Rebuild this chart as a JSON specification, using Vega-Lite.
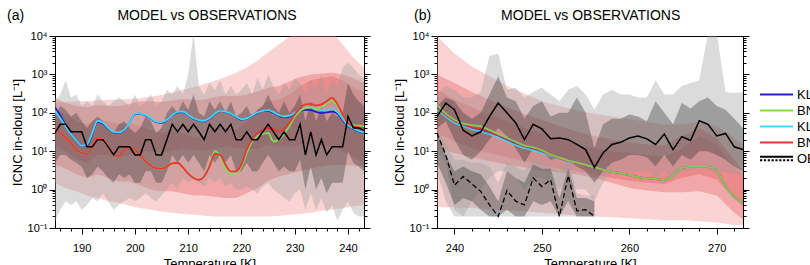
{
  "$schema": "https://vega.github.io/schema/vega-lite/v6.json",
  "background": "white",
  "padding": {"left": 6, "top": 8, "right": 0, "bottom": 0},
  "bounds": "flush",
  "spacing": 73,
  "config": {
    "font": "Liberation Sans",
    "view": {"stroke": "black", "strokeWidth": 1},
    "axis": {"domain": false, "grid": false, "tickColor": "black", "labelColor": "black", "titleColor": "black", "labelFont": "Liberation Sans", "titleFont": "Liberation Sans", "labelFontSize": 11, "titleFontSize": 13, "titleFontWeight": "normal", "labelOverlap": false}
  },
  "datasets": {
    "pa": [
      {"T":185,"kb":140,"kc":110,"bg":40,"br":40,"ob":30,"gl":0.15,"gh":200,"dl":5,"dh":80,"pl":1.5,"ph":180,"r1l":15,"r1h":250,"r2l":4.5,"r2h":120},
      {"T":186,"kb":85,"kc":72,"bg":30,"br":30,"ob":50,"gl":0.3,"gh":300,"dl":8,"dh":150},
      {"T":187,"kb":48,"kc":44,"bg":22,"br":22,"ob":50,"gl":0.5,"gh":700,"dl":8,"dh":120,"pl":1.1,"ph":190,"r1l":10,"r1h":180,"r2l":3.5,"r2h":90},
      {"T":188,"kb":29,"kc":28,"bg":16,"br":16,"ob":32,"gl":0.4,"gh":250,"dl":6,"dh":80},
      {"T":189,"kb":19,"kc":19,"bg":11,"br":11,"ob":32,"gl":0.5,"gh":300,"dl":5,"dh":100,"pl":0.9,"ph":200,"r1l":6,"r1h":150,"r2l":2.5,"r2h":60},
      {"T":190,"kb":14,"kc":14,"bg":9,"br":9,"ob":32,"gl":0.3,"gh":150,"dl":4,"dh":60},
      {"T":191,"kb":14,"kc":15,"bg":8.5,"br":8.5,"ob":13,"gl":0.4,"gh":200,"dl":2,"dh":40,"pl":0.7,"ph":200,"r1l":5,"r1h":140,"r2l":2,"r2h":50},
      {"T":192,"kb":28,"kc":30,"bg":14,"br":14,"ob":13,"gl":0.6,"gh":150,"dl":2.5,"dh":60},
      {"T":193,"kb":58,"kc":62,"bg":22,"br":22,"ob":20,"gl":0.5,"gh":300,"dl":4,"dh":80,"pl":0.6,"ph":210,"r1l":8,"r1h":160,"r2l":2.5,"r2h":70},
      {"T":194,"kb":52,"kc":55,"bg":19,"br":19,"ob":20,"gl":0.8,"gh":200,"dl":3,"dh":60},
      {"T":195,"kb":38,"kc":40,"bg":13,"br":13,"ob":13,"gl":0.5,"gh":150,"dl":2,"dh":40,"pl":0.5,"ph":220,"r1l":8,"r1h":150,"r2l":2,"r2h":60},
      {"T":196,"kb":31,"kc":32,"bg":8,"br":8,"ob":8,"gl":0.3,"gh":200,"dl":1.5,"dh":30},
      {"T":197,"kb":30,"kc":31,"bg":7.5,"br":7.5,"ob":13,"gl":0.4,"gh":250,"dl":2.5,"dh":50,"pl":0.45,"ph":220,"r1l":7,"r1h":150,"r2l":1.6,"r2h":50},
      {"T":198,"kb":35,"kc":36,"bg":11,"br":11,"ob":13,"gl":0.5,"gh":200,"dl":2,"dh":60},
      {"T":199,"kb":55,"kc":55,"bg":13,"br":13,"ob":13,"gl":0.6,"gh":150,"dl":2.5,"dh":40,"pl":0.38,"ph":230,"r1l":8,"r1h":170,"r2l":1.6,"r2h":55},
      {"T":200,"kb":92,"kc":95,"bg":11,"br":11,"ob":8,"gl":0.5,"gh":300,"dl":1.5,"dh":30},
      {"T":201,"kb":95,"kc":97,"bg":8,"br":8,"ob":8,"gl":0.6,"gh":150,"dl":1.5,"dh":40,"pl":0.33,"ph":240,"r1l":10,"r1h":200,"r2l":1.3,"r2h":45},
      {"T":202,"kb":85,"kc":88,"bg":5.5,"br":5.5,"ob":20,"gl":0.8,"gh":200,"dl":3,"dh":80},
      {"T":203,"kb":70,"kc":72,"bg":4.2,"br":4.2,"ob":20,"gl":0.6,"gh":300,"dl":3,"dh":60,"pl":0.3,"ph":260,"r1l":10,"r1h":200,"r2l":1,"r2h":35},
      {"T":204,"kb":57,"kc":59,"bg":3.6,"br":3.6,"ob":8,"gl":0.5,"gh":150,"dl":1.5,"dh":30},
      {"T":205,"kb":55,"kc":57,"bg":3.5,"br":3.5,"ob":8,"gl":0.7,"gh":200,"dl":1.5,"dh":40,"pl":0.27,"ph":290,"r1l":9,"r1h":190,"r2l":0.9,"r2h":30},
      {"T":206,"kb":65,"kc":66,"bg":4,"br":4,"ob":20,"gl":1,"gh":400,"dl":3,"dh":100},
      {"T":207,"kb":85,"kc":86,"bg":4.8,"br":4.8,"ob":50,"gl":1.5,"gh":300,"dl":8,"dh":150,"pl":0.25,"ph":340,"r1l":10,"r1h":210,"r2l":0.9,"r2h":35},
      {"T":208,"kb":103,"kc":106,"bg":5,"br":5,"ob":32,"gl":1,"gh":500,"dl":5,"dh":100},
      {"T":209,"kb":105,"kc":108,"bg":3.8,"br":3.8,"ob":50,"gl":2,"gh":300,"dl":8,"dh":200,"pl":0.23,"ph":400,"r1l":12,"r1h":230,"r2l":0.8,"r2h":30},
      {"T":210,"kb":86,"kc":88,"bg":2.6,"br":2.6,"ob":32,"gl":1.5,"gh":1000,"dl":5,"dh":120},
      {"T":211,"kb":70,"kc":72,"bg":2,"br":2,"ob":50,"gl":2,"gh":12000,"dl":8,"dh":300,"pl":0.22,"ph":460,"r1l":11,"r1h":220,"r2l":0.7,"r2h":22},
      {"T":212,"kb":62,"kc":64,"bg":1.8,"br":1.8,"ob":32,"gl":1.5,"gh":500,"dl":5,"dh":100},
      {"T":213,"kb":60,"kc":62,"bg":2.2,"br":2.2,"ob":20,"gl":1.2,"gh":300,"dl":3,"dh":80,"pl":0.21,"ph":560,"r1l":10,"r1h":220,"r2l":0.7,"r2h":25},
      {"T":214,"kb":70,"kc":72,"bg":4.2,"br":4,"ob":50,"gl":2,"gh":600,"dl":8,"dh":200},
      {"T":215,"kb":93,"kc":95,"bg":10,"br":8.5,"ob":32,"gl":1.5,"gh":400,"dl":5,"dh":120,"pl":0.2,"ph":680,"r1l":12,"r1h":260,"r2l":0.65,"r2h":45},
      {"T":216,"kb":110,"kc":112,"bg":7.5,"br":8,"ob":50,"gl":2,"gh":700,"dl":8,"dh":200},
      {"T":217,"kb":105,"kc":108,"bg":3.6,"br":4.5,"ob":32,"gl":1.2,"gh":300,"dl":5,"dh":100,"pl":0.2,"ph":850,"r1l":13,"r1h":280,"r2l":0.6,"r2h":40},
      {"T":218,"kb":93,"kc":96,"bg":2.5,"br":3,"ob":50,"gl":1.5,"gh":500,"dl":8,"dh":200},
      {"T":219,"kb":78,"kc":80,"bg":2.7,"br":3,"ob":20,"gl":1,"gh":300,"dl":3,"dh":80,"pl":0.2,"ph":1100,"r1l":12,"r1h":270,"r2l":0.6,"r2h":35},
      {"T":220,"kb":66,"kc":68,"bg":4,"br":4.5,"ob":20,"gl":1,"gh":400,"dl":3,"dh":100},
      {"T":221,"kb":70,"kc":72,"bg":9,"br":11,"ob":32,"gl":1.2,"gh":600,"dl":5,"dh":150,"pl":0.2,"ph":1500,"r1l":11,"r1h":300,"r2l":0.8,"r2h":60},
      {"T":222,"kb":85,"kc":86,"bg":18,"br":20,"ob":20,"gl":1,"gh":300,"dl":3,"dh":80},
      {"T":223,"kb":100,"kc":102,"bg":25,"br":30,"ob":20,"gl":0.8,"gh":800,"dl":3,"dh":120,"pl":0.2,"ph":2300,"r1l":12,"r1h":360,"r2l":1.1,"r2h":120},
      {"T":224,"kb":110,"kc":112,"bg":28,"br":35,"ob":32,"gl":1.2,"gh":400,"dl":5,"dh":150},
      {"T":225,"kb":113,"kc":117,"bg":30,"br":40,"ob":50,"gl":1.5,"gh":1000,"dl":8,"dh":300,"pl":0.2,"ph":3800,"r1l":14,"r1h":450,"r2l":1.7,"r2h":200},
      {"T":226,"kb":100,"kc":104,"bg":18,"br":38,"ob":32,"gl":1,"gh":500,"dl":5,"dh":150},
      {"T":227,"kb":85,"kc":88,"bg":20,"br":32,"ob":20,"gl":0.8,"gh":300,"dl":3,"dh":100,"pl":0.21,"ph":6000,"r1l":13,"r1h":500,"r2l":2.2,"r2h":220},
      {"T":228,"kb":76,"kc":80,"bg":28,"br":38,"ob":32,"gl":0.6,"gh":600,"dl":4,"dh":200},
      {"T":229,"kb":80,"kc":84,"bg":45,"br":55,"ob":20,"gl":0.5,"gh":400,"dl":3,"dh":100,"pl":0.22,"ph":9500,"r1l":13,"r1h":650,"r2l":2.6,"r2h":300},
      {"T":230,"kb":95,"kc":100,"bg":80,"br":90,"ob":20,"gl":0.8,"gh":800,"dl":3,"dh":150},
      {"T":231,"kb":110,"kc":118,"bg":110,"br":130,"ob":50,"gl":1,"gh":600,"dl":6,"dh":300,"pl":0.23,"ph":13000,"r1l":14,"r1h":850,"r2l":3,"r2h":500},
      {"T":232,"kb":120,"kc":132,"bg":135,"br":165,"ob":8,"gl":0.3,"gh":300,"dl":1,"dh":60},
      {"T":233,"kb":118,"kc":138,"bg":140,"br":170,"ob":32,"gl":0.8,"gh":700,"dl":4,"dh":200,"pl":0.25,"ph":14000,"r1l":15,"r1h":1000,"r2l":3.5,"r2h":700},
      {"T":234,"kb":105,"kc":128,"bg":130,"br":155,"ob":8,"gl":0.3,"gh":400,"dl":1,"dh":60},
      {"T":235,"kb":98,"kc":118,"bg":140,"br":165,"ob":20,"gl":0.6,"gh":1000,"dl":2,"dh":150,"pl":0.28,"ph":14000,"r1l":14,"r1h":1050,"r2l":4,"r2h":800},
      {"T":236,"kb":102,"kc":120,"bg":175,"br":200,"ob":8,"gl":0.25,"gh":300,"dl":0.8,"dh":60},
      {"T":237,"kb":108,"kc":125,"bg":210,"br":245,"ob":13,"gl":0.4,"gh":700,"dl":1.5,"dh":100,"pl":0.3,"ph":13000,"r1l":13,"r1h":1100,"r2l":4.4,"r2h":900},
      {"T":238,"kb":95,"kc":105,"bg":150,"br":170,"ob":13,"gl":0.15,"gh":500,"dl":1.5,"dh":80},
      {"T":239,"kb":65,"kc":70,"bg":85,"br":90,"ob":13,"gl":0.3,"gh":1500,"dl":1.5,"dh":100,"pl":0.33,"ph":6000,"r1l":10,"r1h":1000,"r2l":4.4,"r2h":700},
      {"T":240,"kb":45,"kc":47,"bg":55,"br":55,"ob":80,"gl":0.5,"gh":2000,"dl":10,"dh":600},
      {"T":241,"kb":38,"kc":39,"bg":48,"br":45,"ob":40,"gl":0.25,"gh":1500,"dl":5,"dh":300,"pl":0.37,"ph":2700,"r1l":7,"r1h":800,"r2l":4.2,"r2h":450},
      {"T":242,"kb":33,"kc":34,"bg":46,"br":42,"ob":40,"gl":0.2,"gh":1000,"dl":4,"dh":200},
      {"T":243,"kb":30,"kc":31,"bg":45,"br":40,"ob":35,"gl":0.2,"gh":800,"dl":3,"dh":150,"pl":0.4,"ph":1500,"r1l":5,"r1h":600,"r2l":4,"r2h":350}
    ],
    "pb": [
      {"T":238,"kb":130,"kc":120,"bg":160,"br":140,"ob":80,"o2":30,"gl":10,"gh":300,"dl":40,"dh":150,"g2l":3,"g2h":40,"d2l":5,"d2h":30,"pl":0.35,"ph":10000,"r1l":12,"r1h":1000,"r2l":30,"r2h":400},
      {"T":239,"kb":85,"kc":80,"bg":95,"br":90,"ob":180,"o2":8,"gl":5,"gh":500,"dl":60,"dh":250,"g2l":0.5,"g2h":15,"d2l":1.5,"d2h":8},
      {"T":240,"kb":60,"kc":55,"bg":65,"br":62,"ob":120,"o2":1.3,"gl":0.3,"gh":400,"dl":20,"dh":200,"g2l":0.2,"g2h":6,"d2l":0.4,"d2h":3,"pl":0.34,"ph":3500,"r1l":9,"r1h":600,"r2l":18,"r2h":220},
      {"T":241,"kb":48,"kc":45,"bg":52,"br":50,"ob":35,"o2":2.2,"gl":0.2,"gh":250,"dl":8,"dh":100,"g2l":0.2,"g2h":6,"d2l":0.6,"d2h":4},
      {"T":242,"kb":40,"kc":37,"bg":48,"br":42,"ob":25,"o2":1.4,"gl":0.5,"gh":250,"dl":6,"dh":70,"g2l":0.2,"g2h":5,"d2l":0.5,"d2h":3,"pl":0.33,"ph":1600,"r1l":7,"r1h":350,"r2l":12,"r2h":140},
      {"T":243,"kb":36,"kc":33,"bg":44,"br":38,"ob":32,"o2":0.9,"gl":1,"gh":350,"dl":10,"dh":100,"g2l":0.2,"g2h":5,"d2l":0.3,"d2h":2.5},
      {"T":244,"kb":30,"kc":28,"bg":36,"br":32,"ob":80,"o2":0.4,"gl":2,"gh":3000,"dl":20,"dh":300,"g2l":0.2,"g2h":4,"d2l":0.2,"d2h":1.2,"pl":0.31,"ph":900,"r1l":5.5,"r1h":220,"r2l":9,"r2h":90},
      {"T":245,"kb":25,"kc":23,"bg":28,"br":26,"ob":180,"o2":0.2,"gl":3,"gh":3500,"dl":40,"dh":900,"g2l":0.2,"g2h":1.5,"d2l":0.2,"d2h":0.5},
      {"T":246,"kb":20,"kc":18,"bg":22,"br":21,"ob":100,"o2":0.95,"gl":3,"gh":400,"dl":25,"dh":250,"g2l":0.2,"g2h":5,"d2l":0.3,"d2h":3,"pl":0.29,"ph":500,"r1l":4.5,"r1h":140,"r2l":7,"r2h":60},
      {"T":247,"kb":16,"kc":14.5,"bg":17.5,"br":16.5,"ob":55,"o2":0.5,"gl":2,"gh":450,"dl":12,"dh":200,"g2l":0.2,"g2h":4,"d2l":0.2,"d2h":2},
      {"T":248,"kb":13,"kc":12,"bg":14,"br":13.5,"ob":20,"o2":0.4,"gl":1,"gh":250,"dl":5,"dh":70,"g2l":0.2,"g2h":3,"d2l":0.2,"d2h":1.5,"pl":0.27,"ph":320,"r1l":3.8,"r1h":95,"r2l":5.5,"r2h":40},
      {"T":249,"kb":11.5,"kc":10.5,"bg":12.5,"br":12,"ob":50,"o2":2,"gl":2,"gh":350,"dl":12,"dh":150,"g2l":0.2,"g2h":6,"d2l":0.5,"d2h":4.5},
      {"T":250,"kb":9.5,"kc":9,"bg":10.5,"br":10,"ob":38,"o2":1.2,"gl":2,"gh":450,"dl":10,"dh":200,"g2l":0.2,"g2h":5,"d2l":0.4,"d2h":3.5,"pl":0.25,"ph":200,"r1l":3.2,"r1h":65,"r2l":4.5,"r2h":28},
      {"T":251,"kb":7.8,"kc":7.5,"bg":8.2,"br":8,"ob":21,"o2":1.8,"gl":1.5,"gh":300,"dl":6,"dh":80,"g2l":0.2,"g2h":4,"d2l":0.5,"d2h":3.5},
      {"T":252,"kb":6.5,"kc":6.4,"bg":6.8,"br":6.6,"ob":22,"o2":0.2,"gl":1,"gh":200,"dl":7,"dh":100,"g2l":0.2,"g2h":3,"d2l":0.2,"d2h":0.6,"pl":0.23,"ph":150,"r1l":2.8,"r1h":45,"r2l":3.5,"r2h":20},
      {"T":253,"kb":5.5,"kc":5.4,"bg":5.7,"br":5.6,"ob":20,"o2":2.3,"gl":1.5,"gh":400,"dl":6,"dh":100,"g2l":0.2,"g2h":6,"d2l":0.5,"d2h":3.5},
      {"T":254,"kb":5,"kc":4.9,"bg":5.1,"br":5,"ob":15,"o2":0.28,"gl":1,"gh":500,"dl":4,"dh":250,"g2l":0.2,"g2h":0.8,"d2l":0.2,"d2h":0.6,"pl":0.21,"ph":115,"r1l":2.5,"r1h":32,"r2l":3,"r2h":15},
      {"T":255,"kb":4.3,"kc":4.3,"bg":4.4,"br":4.3,"ob":11,"o2":0.3,"gl":1,"gh":300,"dl":3,"dh":100,"g2l":0.2,"g2h":0.7,"d2l":0.2,"d2h":0.6},
      {"T":256,"kb":3.8,"kc":3.8,"bg":3.8,"br":3.8,"ob":3.8,"o2":0.2,"gl":0.5,"gh":120,"dl":1.5,"dh":12,"g2l":0.2,"g2h":0.7,"d2l":0.2,"d2h":0.5,"pl":0.2,"ph":95,"r1l":2,"r1h":25,"r2l":2.5,"r2h":12},
      {"T":257,"kb":3.3,"kc":3.3,"bg":3.3,"br":3.3,"ob":9,"gl":1.5,"gh":300,"dl":3,"dh":50},
      {"T":258,"kb":2.9,"kc":2.9,"bg":2.9,"br":2.9,"ob":15,"gl":3,"gh":400,"dl":5,"dh":70,"pl":0.19,"ph":80,"r1l":1.5,"r1h":20,"r2l":2,"r2h":10},
      {"T":259,"kb":2.7,"kc":2.7,"bg":2.7,"br":2.7,"ob":17,"gl":3,"gh":300,"dl":6,"dh":70},
      {"T":260,"kb":2.4,"kc":2.4,"bg":2.4,"br":2.4,"ob":22,"gl":3,"gh":300,"dl":8,"dh":90,"pl":0.18,"ph":68,"r1l":1.1,"r1h":17,"r2l":1.7,"r2h":9},
      {"T":261,"kb":2.1,"kc":2.1,"bg":2.1,"br":2.1,"ob":25,"gl":3,"gh":250,"dl":8,"dh":80},
      {"T":262,"kb":2,"kc":2,"bg":2,"br":2,"ob":21,"gl":3,"gh":250,"dl":7,"dh":60,"pl":0.17,"ph":58,"r1l":0.95,"r1h":15,"r2l":1.5,"r2h":8},
      {"T":263,"kb":1.9,"kc":1.9,"bg":1.9,"br":1.9,"ob":15,"gl":2,"gh":700,"dl":4,"dh":200},
      {"T":264,"kb":1.8,"kc":1.8,"bg":1.8,"br":1.8,"ob":28,"gl":3,"gh":300,"dl":8,"dh":100,"pl":0.16,"ph":48,"r1l":0.85,"r1h":14,"r2l":1.4,"r2h":7},
      {"T":265,"kb":2.3,"kc":2.3,"bg":2.3,"br":2.3,"ob":11,"gl":2,"gh":300,"dl":4,"dh":50},
      {"T":266,"kb":3.7,"kc":3.7,"bg":3.7,"br":3.7,"ob":24,"gl":3,"gh":500,"dl":8,"dh":180,"pl":0.16,"ph":50,"r1l":0.85,"r1h":25,"r2l":2,"r2h":12},
      {"T":267,"kb":3.9,"kc":3.9,"bg":3.9,"br":3.9,"ob":19,"gl":3,"gh":600,"dl":6,"dh":130},
      {"T":268,"kb":3.9,"kc":3.9,"bg":3.9,"br":3.9,"ob":62,"gl":4,"gh":700,"dl":10,"dh":200,"pl":0.15,"ph":58,"r1l":0.9,"r1h":40,"r2l":2.5,"r2h":25},
      {"T":269,"kb":3.9,"kc":3.9,"bg":3.9,"br":3.9,"ob":50,"gl":3,"gh":12000,"dl":10,"dh":250},
      {"T":270,"kb":3,"kc":3,"bg":3,"br":3,"ob":25,"gl":3,"gh":12000,"dl":8,"dh":150,"pl":0.14,"ph":45,"r1l":0.7,"r1h":22,"r2l":1.8,"r2h":15},
      {"T":271,"kb":1.2,"kc":1.2,"bg":1.2,"br":1.2,"ob":29,"gl":3,"gh":350,"dl":6,"dh":120},
      {"T":272,"kb":0.65,"kc":0.65,"bg":0.65,"br":0.65,"ob":13,"gl":2.5,"gh":330,"dl":4,"dh":70,"pl":0.12,"ph":22,"r1l":0.25,"r1h":6,"r2l":0.6,"r2h":4},
      {"T":273,"kb":0.45,"kc":0.45,"bg":0.45,"br":0.45,"ob":11,"gl":2.5,"gh":350,"dl":3,"dh":40,"pl":0.12,"ph":15,"r1l":0.17,"r1h":3,"r2l":0.35,"r2h":2.5}
    ]
  },
  "hconcat": [
    {
      "width": 309,
      "height": 192,
      "data": {"name": "pa"},
      "title": {"text": "(a)\u00a0\u00a0\u00a0\u00a0\u00a0\u00a0\u00a0\u00a0\u00a0\u00a0\u00a0\u00a0\u00a0\u00a0\u00a0\u00a0\u00a0\u00a0\u00a0\u00a0\u00a0\u00a0\u00a0\u00a0MODEL vs OBSERVATIONS", "anchor": "start", "frame": "group", "dx": -48, "offset": 7, "fontSize": 14, "fontWeight": "normal", "font": "Liberation Sans", "color": "black"},
      "encoding": {
        "x": {"field": "T", "type": "quantitative", "scale": {"domain": [185, 243], "nice": false, "zero": false},
          "axis": {"values": [186,188,190,192,194,196,198,200,202,204,206,208,210,212,214,216,218,220,222,224,226,228,230,232,234,236,238,240,242],
            "labelExpr": "datum.value % 10 == 0 ? datum.label : ''",
            "tickSize": {"condition": {"test": "datum.value % 10 == 0", "value": 6}, "value": 3},
            "labelPadding": 8, "title": "Temperature [K]", "titlePadding": 4}}
      },
      "layer": [
        {
          "layer": [
            {"transform": [{"filter": "isValid(datum.pl)"}], "mark": {"type": "area", "color": "#f08080", "opacity": 0.35, "clip": true},
              "encoding": {"y": {"field": "pl", "type": "quantitative", "scale": {"type": "log", "domain": [0.1, 10000], "nice": false},
                "axis": {"orient": "left", "values": [0.1,0.2,0.3,0.4,0.5,0.6,0.7,0.8,0.9,1,2,3,4,5,6,7,8,9,10,20,30,40,50,60,70,80,90,100,200,300,400,500,600,700,800,900,1000,2000,3000,4000,5000,6000,7000,8000,9000,10000],
                  "labelExpr": "datum.value == 0.1 ? '10\u207b\u00b9' : datum.value == 1 ? '10\u2070' : datum.value == 10 ? '10\u00b9' : datum.value == 100 ? '10\u00b2' : datum.value == 1000 ? '10\u00b3' : datum.value == 10000 ? '10\u2074' : ''",
                  "tickSize": {"condition": {"test": "datum.value == 0.1 || datum.value == 1 || datum.value == 10 || datum.value == 100 || datum.value == 1000 || datum.value == 10000", "value": 6}, "value": 3},
                  "labelPadding": 2, "title": "ICNC in-cloud [L\u207b\u00b9]", "titlePadding": 3}},
                "y2": {"field": "ph"}}},
            {"transform": [{"filter": "isValid(datum.r1l)"}], "mark": {"type": "area", "color": "#e05a5a", "opacity": 0.36, "clip": true},
              "encoding": {"y": {"field": "r1l", "type": "quantitative", "scale": {"type": "log", "domain": [0.1, 10000], "nice": false}}, "y2": {"field": "r1h"}}},
            {"transform": [{"filter": "isValid(datum.r2l)"}], "mark": {"type": "area", "color": "#e05a5a", "opacity": 0.36, "clip": true},
              "encoding": {"y": {"field": "r2l", "type": "quantitative", "scale": {"type": "log", "domain": [0.1, 10000], "nice": false}}, "y2": {"field": "r2h"}}},
            {"transform": [{"filter": "isValid(datum.gl)"}], "mark": {"type": "area", "color": "#9a9a9a", "opacity": 0.36, "clip": true},
              "encoding": {"y": {"field": "gl", "type": "quantitative", "scale": {"type": "log", "domain": [0.1, 10000], "nice": false}}, "y2": {"field": "gh"}}},
            {"transform": [{"filter": "isValid(datum.dl)"}], "mark": {"type": "area", "color": "#3a3a3a", "opacity": 0.38, "clip": true},
              "encoding": {"y": {"field": "dl", "type": "quantitative", "scale": {"type": "log", "domain": [0.1, 10000], "nice": false}}, "y2": {"field": "dh"}}},
            {"transform": [{"fold": ["kb", "kc", "bg", "br"], "as": ["series", "icnc"]}, {"filter": "isValid(datum.icnc)"}],
              "mark": {"type": "line", "interpolate": "monotone", "strokeWidth": 1.8, "clip": true},
              "encoding": {"y": {"field": "icnc", "type": "quantitative", "scale": {"type": "log", "domain": [0.1, 10000], "nice": false}},
                "color": {"field": "series", "type": "nominal", "scale": {"domain": ["kb", "bg", "kc", "br", "ob"], "range": ["#2020c8", "#80dd50", "#40d8f8", "#ee3333", "#000000"]},
                  "legend": {"orient": "none", "legendX": 715, "legendY": 52, "title": null,
                    "labelExpr": "datum.value == 'kb' || datum.value == 'kc' ? 'KL' : datum.value == 'bg' || datum.value == 'br' ? 'BN' : 'OBS'",
                    "labelFontSize": 13, "labelFont": "Liberation Sans", "labelColor": "black", "symbolType": "M-3,0L3,0", "symbolSize": 121, "symbolStrokeWidth": 2, "labelOffset": 14, "rowPadding": 2,
                    "encode": {"symbols": {"update": {"shape": {"signal": "datum.value == 'ob' ? 'M-3,-0.3L3,-0.3M-3,0.3L-2.6,0.3M-2.3,0.3L-1.9,0.3M-1.6,0.3L-1.2,0.3M-0.9,0.3L-0.5,0.3M-0.2,0.3L0.2,0.3M0.5,0.3L0.9,0.3M1.2,0.3L1.6,0.3M1.9,0.3L2.3,0.3M2.6,0.3L3,0.3' : 'M-3,0L3,0'"}}}}}}}},
            {"transform": [{"filter": "isValid(datum.ob)"}], "mark": {"type": "line", "color": "black", "strokeWidth": 1.5, "clip": true},
              "encoding": {"y": {"field": "ob", "type": "quantitative", "scale": {"type": "log", "domain": [0.1, 10000], "nice": false}}}}
          ]
        },
        {"mark": {"type": "line", "opacity": 0},
          "encoding": {"y": {"field": "ob", "type": "quantitative", "scale": {"type": "log", "domain": [0.1, 10000], "nice": false},
            "axis": {"orient": "right", "values": [0.1,0.2,0.3,0.4,0.5,0.6,0.7,0.8,0.9,1,2,3,4,5,6,7,8,9,10,20,30,40,50,60,70,80,90,100,200,300,400,500,600,700,800,900,1000,2000,3000,4000,5000,6000,7000,8000,9000,10000],
              "labels": false, "title": null,
              "tickSize": {"condition": {"test": "datum.value == 0.1 || datum.value == 1 || datum.value == 10 || datum.value == 100 || datum.value == 1000 || datum.value == 10000", "value": 6}, "value": 3}}}}}
      ],
      "resolve": {"axis": {"y": "independent"}}
    },
    {
      "width": 306,
      "height": 192,
      "data": {"name": "pb"},
      "title": {"text": "(b)\u00a0\u00a0\u00a0\u00a0\u00a0\u00a0\u00a0\u00a0\u00a0\u00a0\u00a0\u00a0\u00a0\u00a0\u00a0\u00a0\u00a0\u00a0MODEL vs OBSERVATIONS", "anchor": "start", "frame": "group", "dx": -23, "offset": 7, "fontSize": 14, "fontWeight": "normal", "font": "Liberation Sans", "color": "black"},
      "encoding": {
        "x": {"field": "T", "type": "quantitative", "scale": {"domain": [238, 273], "nice": false, "zero": false},
          "axis": {"values": [240,242,244,246,248,250,252,254,256,258,260,262,264,266,268,270,272],
            "labelExpr": "datum.value % 10 == 0 ? datum.label : ''",
            "tickSize": {"condition": {"test": "datum.value % 10 == 0", "value": 6}, "value": 3},
            "labelPadding": 8, "title": "Temperature [K]", "titlePadding": 4}}
      },
      "layer": [
        {
          "layer": [
            {"transform": [{"filter": "isValid(datum.pl)"}], "mark": {"type": "area", "color": "#f08080", "opacity": 0.35, "clip": true},
              "encoding": {"y": {"field": "pl", "type": "quantitative", "scale": {"type": "log", "domain": [0.1, 10000], "nice": false},
                "axis": {"orient": "left", "values": [0.1,0.2,0.3,0.4,0.5,0.6,0.7,0.8,0.9,1,2,3,4,5,6,7,8,9,10,20,30,40,50,60,70,80,90,100,200,300,400,500,600,700,800,900,1000,2000,3000,4000,5000,6000,7000,8000,9000,10000],
                  "labelExpr": "datum.value == 0.1 ? '10\u207b\u00b9' : datum.value == 1 ? '10\u2070' : datum.value == 10 ? '10\u00b9' : datum.value == 100 ? '10\u00b2' : datum.value == 1000 ? '10\u00b3' : datum.value == 10000 ? '10\u2074' : ''",
                  "tickSize": {"condition": {"test": "datum.value == 0.1 || datum.value == 1 || datum.value == 10 || datum.value == 100 || datum.value == 1000 || datum.value == 10000", "value": 6}, "value": 3},
                  "labelPadding": 2, "title": "ICNC in-cloud [L\u207b\u00b9]", "titlePadding": 3}},
                "y2": {"field": "ph"}}},
            {"transform": [{"filter": "isValid(datum.r1l)"}], "mark": {"type": "area", "color": "#e05a5a", "opacity": 0.36, "clip": true},
              "encoding": {"y": {"field": "r1l", "type": "quantitative", "scale": {"type": "log", "domain": [0.1, 10000], "nice": false}}, "y2": {"field": "r1h"}}},
            {"transform": [{"filter": "isValid(datum.r2l)"}], "mark": {"type": "area", "color": "#e05a5a", "opacity": 0.36, "clip": true},
              "encoding": {"y": {"field": "r2l", "type": "quantitative", "scale": {"type": "log", "domain": [0.1, 10000], "nice": false}}, "y2": {"field": "r2h"}}},
            {"transform": [{"filter": "isValid(datum.gl)"}], "mark": {"type": "area", "color": "#9a9a9a", "opacity": 0.36, "clip": true},
              "encoding": {"y": {"field": "gl", "type": "quantitative", "scale": {"type": "log", "domain": [0.1, 10000], "nice": false}}, "y2": {"field": "gh"}}},
            {"transform": [{"filter": "isValid(datum.dl)"}], "mark": {"type": "area", "color": "#3a3a3a", "opacity": 0.38, "clip": true},
              "encoding": {"y": {"field": "dl", "type": "quantitative", "scale": {"type": "log", "domain": [0.1, 10000], "nice": false}}, "y2": {"field": "dh"}}},
            {"transform": [{"filter": "isValid(datum.g2l)"}], "mark": {"type": "area", "color": "#9a9a9a", "opacity": 0.36, "clip": true},
              "encoding": {"y": {"field": "g2l", "type": "quantitative", "scale": {"type": "log", "domain": [0.1, 10000], "nice": false}}, "y2": {"field": "g2h"}}},
            {"transform": [{"filter": "isValid(datum.d2l)"}], "mark": {"type": "area", "color": "#3a3a3a", "opacity": 0.38, "clip": true},
              "encoding": {"y": {"field": "d2l", "type": "quantitative", "scale": {"type": "log", "domain": [0.1, 10000], "nice": false}}, "y2": {"field": "d2h"}}},
            {"transform": [{"fold": ["kb", "kc", "br", "bg"], "as": ["series", "icnc"]}, {"filter": "isValid(datum.icnc)"}],
              "mark": {"type": "line", "interpolate": "monotone", "strokeWidth": 1.8, "strokeOpacity": 0.85, "clip": true},
              "encoding": {"y": {"field": "icnc", "type": "quantitative", "scale": {"type": "log", "domain": [0.1, 10000], "nice": false}},
                "color": {"field": "series", "type": "nominal", "scale": {"domain": ["kb", "bg", "kc", "br", "ob"], "range": ["#2020c8", "#80dd50", "#40d8f8", "#ee3333", "#000000"]},
                  "legend": {"orient": "none", "legendX": 715, "legendY": 52, "title": null,
                    "labelExpr": "datum.value == 'kb' || datum.value == 'kc' ? 'KL' : datum.value == 'bg' || datum.value == 'br' ? 'BN' : 'OBS'",
                    "labelFontSize": 13, "labelFont": "Liberation Sans", "labelColor": "black", "symbolType": "M-3,0L3,0", "symbolSize": 121, "symbolStrokeWidth": 2, "labelOffset": 14, "rowPadding": 2,
                    "encode": {"symbols": {"update": {"shape": {"signal": "datum.value == 'ob' ? 'M-3,-0.3L3,-0.3M-3,0.3L-2.6,0.3M-2.3,0.3L-1.9,0.3M-1.6,0.3L-1.2,0.3M-0.9,0.3L-0.5,0.3M-0.2,0.3L0.2,0.3M0.5,0.3L0.9,0.3M1.2,0.3L1.6,0.3M1.9,0.3L2.3,0.3M2.6,0.3L3,0.3' : 'M-3,0L3,0'"}}}}}}}},
            {"transform": [{"filter": "isValid(datum.ob)"}], "mark": {"type": "line", "color": "black", "strokeWidth": 1.5, "clip": true},
              "encoding": {"y": {"field": "ob", "type": "quantitative", "scale": {"type": "log", "domain": [0.1, 10000], "nice": false}}}},
            {"transform": [{"filter": "isValid(datum.o2)"}], "mark": {"type": "line", "color": "black", "strokeWidth": 1.3, "strokeDash": [5, 3], "clip": true},
              "encoding": {"y": {"field": "o2", "type": "quantitative", "scale": {"type": "log", "domain": [0.1, 10000], "nice": false}}}}
          ]
        },
        {"mark": {"type": "line", "opacity": 0},
          "encoding": {"y": {"field": "ob", "type": "quantitative", "scale": {"type": "log", "domain": [0.1, 10000], "nice": false},
            "axis": {"orient": "right", "values": [0.1,0.2,0.3,0.4,0.5,0.6,0.7,0.8,0.9,1,2,3,4,5,6,7,8,9,10,20,30,40,50,60,70,80,90,100,200,300,400,500,600,700,800,900,1000,2000,3000,4000,5000,6000,7000,8000,9000,10000],
              "labels": false, "title": null,
              "tickSize": {"condition": {"test": "datum.value == 0.1 || datum.value == 1 || datum.value == 10 || datum.value == 100 || datum.value == 1000 || datum.value == 10000", "value": 6}, "value": 3}}}}}
      ],
      "resolve": {"axis": {"y": "independent"}}
    }
  ]
}
